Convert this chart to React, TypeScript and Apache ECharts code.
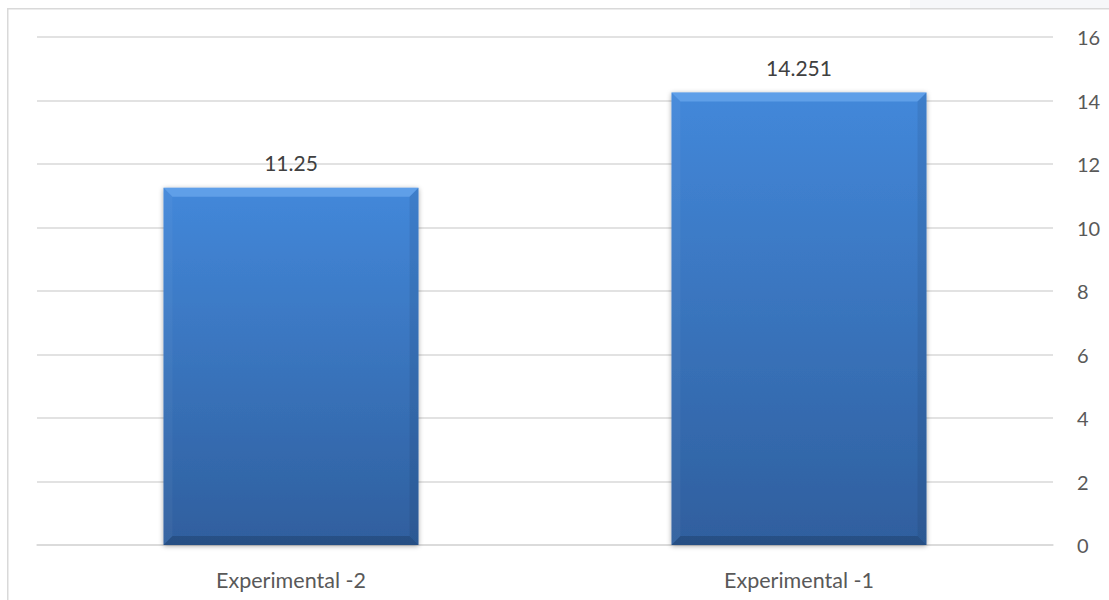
import React, { useEffect, useRef } from "react";
import * as echarts from "echarts";

const categories = ["Experimental -2", "Experimental -1"];
const values = [11.25, 14.251];
const yTicks = { min: 0, max: 16, interval: 2 };

const FONT = "Lato, 'Noto Sans', sans-serif";

export default function App() {
  const ref = useRef<HTMLDivElement>(null);
  useEffect(() => {
    if (!ref.current) return;
    const chart = echarts.init(ref.current, undefined, { renderer: "svg" });
    const option: any = {
      animation: false,
      backgroundColor: "#ffffff",
      textStyle: { fontFamily: FONT },
      grid: { left: 37, right: 56, top: 37, bottom: 55 },
      graphic: [
        {
          type: "rect",
          silent: true,
          shape: { x: 910, y: 0, width: 199, height: 8 },
          style: { fill: "#f6f7f9" },
        },
        {
          type: "rect",
          silent: true,
          shape: { x: 7.75, y: 8.75, width: 1200, height: 700 },
          style: { fill: "none", stroke: "#d9d9d9", lineWidth: 1.5 },
        },
      ],
      xAxis: {
        type: "category",
        data: categories,
        axisLine: { show: true, lineStyle: { color: "#d9d9d9", width: 1.5 } },
        axisTick: { show: false },
        axisLabel: { color: "#595959", fontSize: 21.5, fontFamily: FONT, margin: 24 },
      },
      yAxis: {
        type: "value",
        position: "right",
        min: yTicks.min,
        max: yTicks.max,
        interval: yTicks.interval,
        axisLine: { show: false },
        axisTick: { show: false },
        axisLabel: { color: "#595959", fontSize: 20, fontFamily: FONT, margin: 24 },
        splitLine: { lineStyle: { color: "#d9d9d9", width: 1.5 } },
      },
      series: [
        {
          type: "custom",
          data: values.map((v, i) => [i, v]),
          encode: { x: 0, y: 1 },
          renderItem: (params: any, api: any) => {
            const idx = api.value(0);
            const val = api.value(1);
            const top = api.coord([idx, val]);
            const base = api.coord([idx, 0]);
            const w = api.size([1, 0])[0] * 0.502;
            const l = top[0] - w / 2;
            const r = top[0] + w / 2;
            const t = top[1];
            const b = base[1];
            const bv = 9;
            return {
              type: "group",
              children: [
                {
                  type: "rect",
                  shape: { x: l, y: t, width: r - l, height: b - t },
                  style: {
                    fill: new echarts.graphic.LinearGradient(0, 0, 0, 1, [
                      { offset: 0, color: "#4388da" },
                      { offset: 1, color: "#2f5f9e" },
                    ]),
                    shadowBlur: 5,
                    shadowColor: "rgba(0,0,0,0.35)",
                    shadowOffsetY: 1,
                  },
                },
                {
                  type: "polygon",
                  shape: { points: [[l, t], [r, t], [r - bv, t + bv], [l + bv, t + bv]] },
                  style: { fill: "rgba(140,195,255,0.4)" },
                },
                {
                  type: "polygon",
                  shape: { points: [[l, t], [l + bv, t + bv], [l + bv, b - bv], [l, b]] },
                  style: { fill: "rgba(255,255,255,0.04)" },
                },
                {
                  type: "polygon",
                  shape: { points: [[r, t], [r - bv, t + bv], [r - bv, b - bv], [r, b]] },
                  style: { fill: "rgba(0,0,0,0.07)" },
                },
                {
                  type: "polygon",
                  shape: { points: [[l, b], [l + bv, b - bv], [r - bv, b - bv], [r, b]] },
                  style: { fill: "rgba(0,0,0,0.16)" },
                },
                {
                  type: "text",
                  x: top[0],
                  y: t - 15,
                  style: {
                    text: String(values[idx]),
                    fill: "#404040",
                    fontSize: 21,
                    fontFamily: FONT,
                    align: "center",
                    verticalAlign: "bottom",
                  },
                },
              ],
            };
          },
        },
      ],
    };
    chart.setOption(option);
    return () => chart.dispose();
  }, []);
  return (
    <div
      ref={ref}
      style={{ position: "fixed", left: 0, top: 0, width: 1109, height: 600 }}
    />
  );
}
